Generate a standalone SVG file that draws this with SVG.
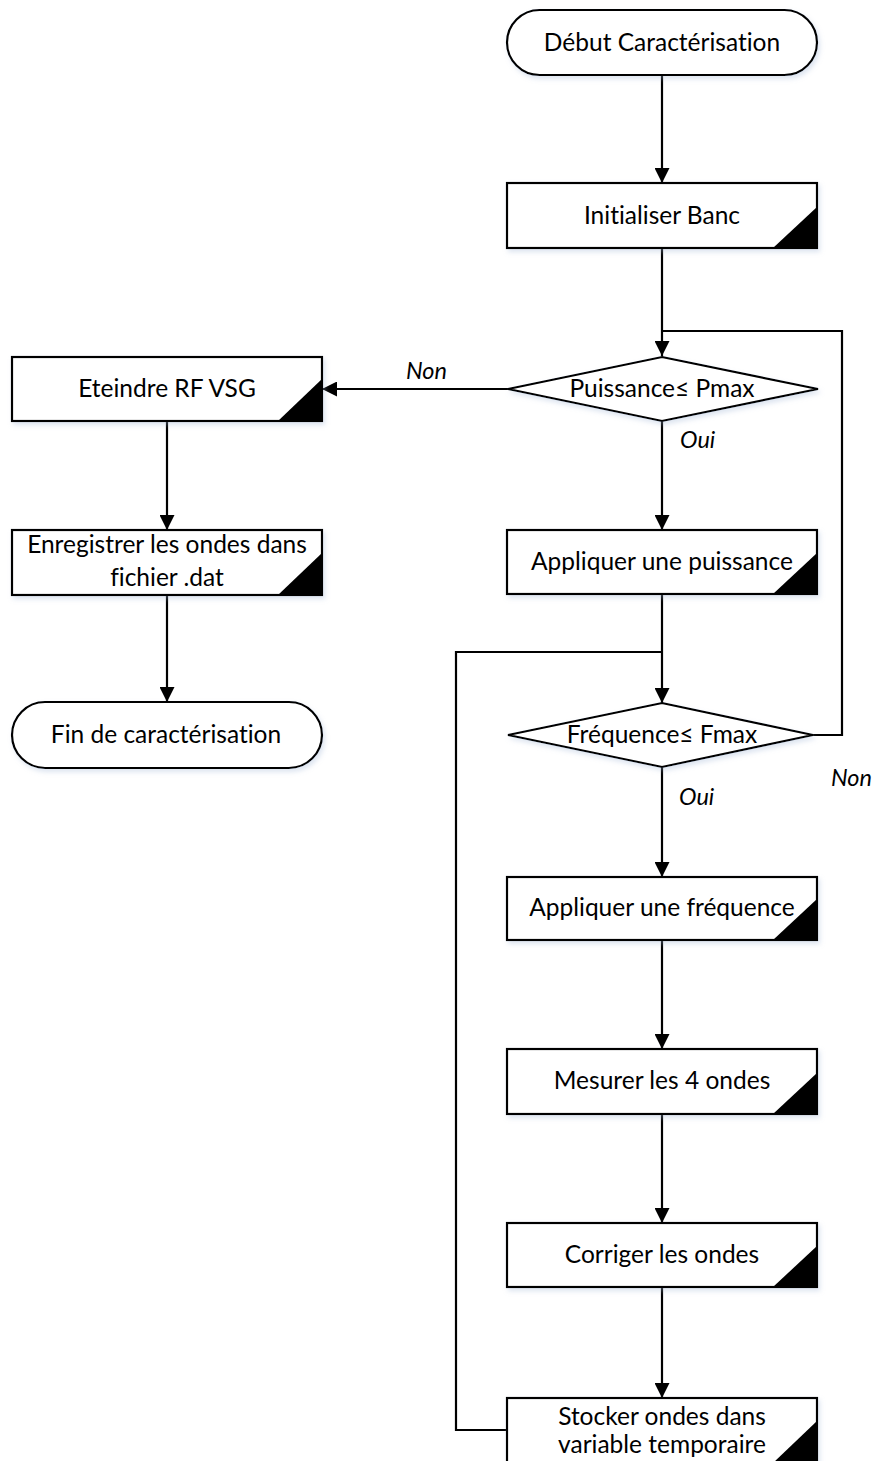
<svg xmlns="http://www.w3.org/2000/svg" width="877" height="1461" viewBox="0 0 877 1461">
<defs>
<marker id="arr" markerWidth="15" markerHeight="15" refX="15" refY="7.5" orient="auto" markerUnits="userSpaceOnUse">
<path d="M0,0 L15,7.5 L0,15 z" fill="#000"/>
</marker>
<filter id="sh" x="-10%" y="-20%" width="130%" height="150%">
<feDropShadow dx="2" dy="3" stdDeviation="2.5" flood-color="#9db3d3" flood-opacity="0.35"/>
</filter>
<style>
.box{fill:#fff;stroke:#000;stroke-width:2.2;filter:url(#sh)}
.tri{fill:#000}
.t{font-family:Lato,"Open Sans",sans-serif;font-size:24.5px;fill:#000;text-anchor:middle;font-variant-ligatures:none}
.lbl{font-family:Lato,"Open Sans",sans-serif;font-size:23.5px;font-style:italic;fill:#000}
.c{fill:none;stroke:#000;stroke-width:2.2}
.ca{fill:none;stroke:#000;stroke-width:2.2;marker-end:url(#arr)}
</style>
</defs>
<rect width="877" height="1461" fill="#fff"/>

<g id="connectors">
<line class="ca" x1="662" y1="75" x2="662" y2="183"/>
<line class="ca" x1="662" y1="248" x2="662" y2="356"/>
<line class="ca" x1="508" y1="389" x2="322" y2="389"/>
<line class="ca" x1="662" y1="421" x2="662" y2="530"/>
<line class="ca" x1="167" y1="421" x2="167" y2="530"/>
<line class="ca" x1="167" y1="595" x2="167" y2="702"/>
<line class="ca" x1="662" y1="594" x2="662" y2="703"/>
<line class="ca" x1="662" y1="767" x2="662" y2="877"/>
<line class="ca" x1="662" y1="940" x2="662" y2="1049"/>
<line class="ca" x1="662" y1="1114" x2="662" y2="1223"/>
<line class="ca" x1="662" y1="1287" x2="662" y2="1398"/>
<polyline class="c" points="507,1430 456,1430 456,652 662,652"/>
<polyline class="c" points="813,735 842,735 842,331 662,331"/>
<text class="lbl" x="406" y="379">Non</text>
<text class="lbl" x="680" y="448">Oui</text>
<text class="lbl" x="831" y="786">Non</text>
<text class="lbl" x="679" y="805">Oui</text>
</g>

<g id="debut">
<rect class="box" x="507" y="10" width="310" height="65" rx="32.5"/>
<text class="t" x="662" y="51">Début Caractérisation</text>
</g>

<g id="initialiser">
<rect class="box" x="507" y="183" width="310" height="65"/>
<polygon class="tri" points="773,248 817,207 817,248"/>
<text class="t" x="662" y="224">Initialiser Banc</text>
</g>

<g id="puissance-test">
<polygon class="box" points="662,357 818,389 662,421 508,389"/>
<text class="t" x="662" y="397">Puissance≤ Pmax</text>
</g>

<g id="eteindre">
<rect class="box" x="12" y="357" width="310" height="64"/>
<polygon class="tri" points="278,421 322,379 322,421"/>
<text class="t" x="167" y="397">Eteindre RF VSG</text>
</g>

<g id="enregistrer">
<rect class="box" x="12" y="530" width="310" height="65"/>
<polygon class="tri" points="278,595 322,553 322,595"/>
<text class="t" x="167" y="553">Enregistrer les ondes dans</text>
<text class="t" x="167" y="586">fichier .dat</text>
</g>

<g id="fin">
<rect class="box" x="12" y="702" width="310" height="66" rx="33"/>
<text class="t" x="166" y="743">Fin de caractérisation</text>
</g>

<g id="appliquer-puissance">
<rect class="box" x="507" y="530" width="310" height="64"/>
<polygon class="tri" points="773,594 817,553 817,594"/>
<text class="t" x="662" y="570">Appliquer une puissance</text>
</g>

<g id="frequence-test">
<polygon class="box" points="662,703 813,735 662,767 508,735"/>
<text class="t" x="662" y="743">Fréquence≤ Fmax</text>
</g>

<g id="appliquer-frequence">
<rect class="box" x="507" y="877" width="310" height="63"/>
<polygon class="tri" points="773,940 817,899 817,940"/>
<text class="t" x="662" y="916">Appliquer une fréquence</text>
</g>

<g id="mesurer">
<rect class="box" x="507" y="1049" width="310" height="65"/>
<polygon class="tri" points="773,1114 817,1073 817,1114"/>
<text class="t" x="662" y="1089">Mesurer les 4 ondes</text>
</g>

<g id="corriger">
<rect class="box" x="507" y="1223" width="310" height="64"/>
<polygon class="tri" points="773,1287 817,1246 817,1287"/>
<text class="t" x="662" y="1263">Corriger les ondes</text>
</g>

<g id="stocker">
<rect class="box" x="507" y="1398" width="310" height="65"/>
<polygon class="tri" points="773,1463 817,1421 817,1463"/>
<text class="t" x="662" y="1425">Stocker ondes dans</text>
<text class="t" x="662" y="1453">variable temporaire</text>
</g>
</svg>
